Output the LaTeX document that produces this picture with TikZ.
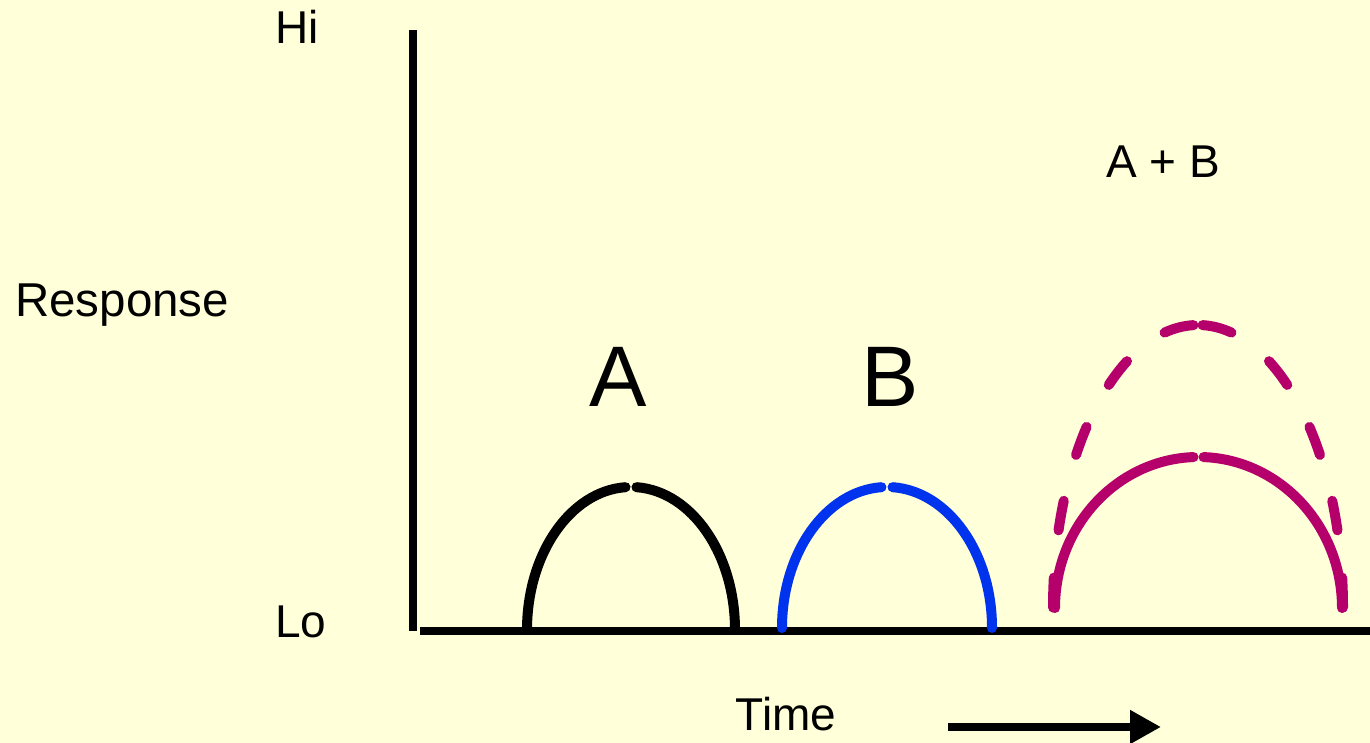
\documentclass[tikz,border=0pt]{standalone}
\usepackage{fontspec}
\setmainfont{Liberation Sans}
\usetikzlibrary{arrows.meta}
\definecolor{bg}{RGB}{255,255,217}
\definecolor{bcurve}{RGB}{0,51,238}
\definecolor{mcurve}{RGB}{181,0,107}
\tikzset{
  lbl/.style={inner sep=0pt,font=\fontsize{46}{50}\selectfont},
  big/.style={inner sep=0pt,font=\fontsize{86}{90}\selectfont},
  axis/.style={line width=8.5pt},
  curve/.style={line width=10pt,line cap=round},
  dashcurve/.style={line width=10pt,line cap=round,dash pattern=on 30pt off 47.5pt}
}
\begin{document}
\begin{tikzpicture}[x=1pt,y=1pt]
\fill[bg] (0,0) rectangle (1370,743);
\useasboundingbox (0,0) rectangle (1370,743);
% axes
\coordinate (ytop) at (413,713);
\coordinate (ybot) at (413,112);
\coordinate (xl) at (420,112);
\coordinate (xr) at (1370,112);
\draw[axis] (ytop) -- (ybot);
\draw[axis] (xl) -- (xr);
% labels
\node[lbl] (hi) at (297,716) {Hi};
\node[lbl,anchor=base west] (lo) at (275,105) {Lo};
\node[lbl,anchor=base west,font=\fontsize{47.5}{50}\selectfont] (resp) at (15,426) {Response};
\node[lbl,anchor=base] (time) at (786,12) {Time};
\node[big,anchor=base] (la) at (618,336) {A};
\node[big,anchor=base] (lb) at (890,336) {B};
\node[lbl,anchor=base] (lab) at (1163,565) {A + B};
% time arrow
\coordinate (ta) at (948,16);
\coordinate (tb) at (1161,16);
\draw[line width=8pt,-{Triangle[length=31pt,width=32pt]}] (ta) -- (tb);
% curve A
\draw[curve,black] (527,113) arc[start angle=180,end angle=93,x radius=104,y radius=143];
\draw[curve,black] ([shift={(87:104 and 143)}]631,113) arc[start angle=87,end angle=0,x radius=104,y radius=143];
% curve B
\draw[curve,bcurve] (782,115) arc[start angle=180,end angle=93,x radius=105,y radius=141];
\draw[curve,bcurve] ([shift={(87:105 and 141)}]887,115) arc[start angle=87,end angle=0,x radius=105,y radius=141];
% curve A+B solid
\draw[curve,mcurve] (1055,135) arc[start angle=180,end angle=92,x radius=143.5,y radius=151];
\draw[curve,mcurve] ([shift={(88:143.5 and 151)}]1198.5,135) arc[start angle=88,end angle=0,x radius=143.5,y radius=151];
% curve A+B dashed (drawn from the top down)
\draw[dashcurve,mcurve] ([shift={(91.8:145 and 283)}]1198,135) arc[start angle=91.8,end angle=180,x radius=145,y radius=283];
\draw[dashcurve,mcurve] ([shift={(88.2:145 and 283)}]1198,135) arc[start angle=88.2,end angle=0,x radius=145,y radius=283];
\end{tikzpicture}
\end{document}
